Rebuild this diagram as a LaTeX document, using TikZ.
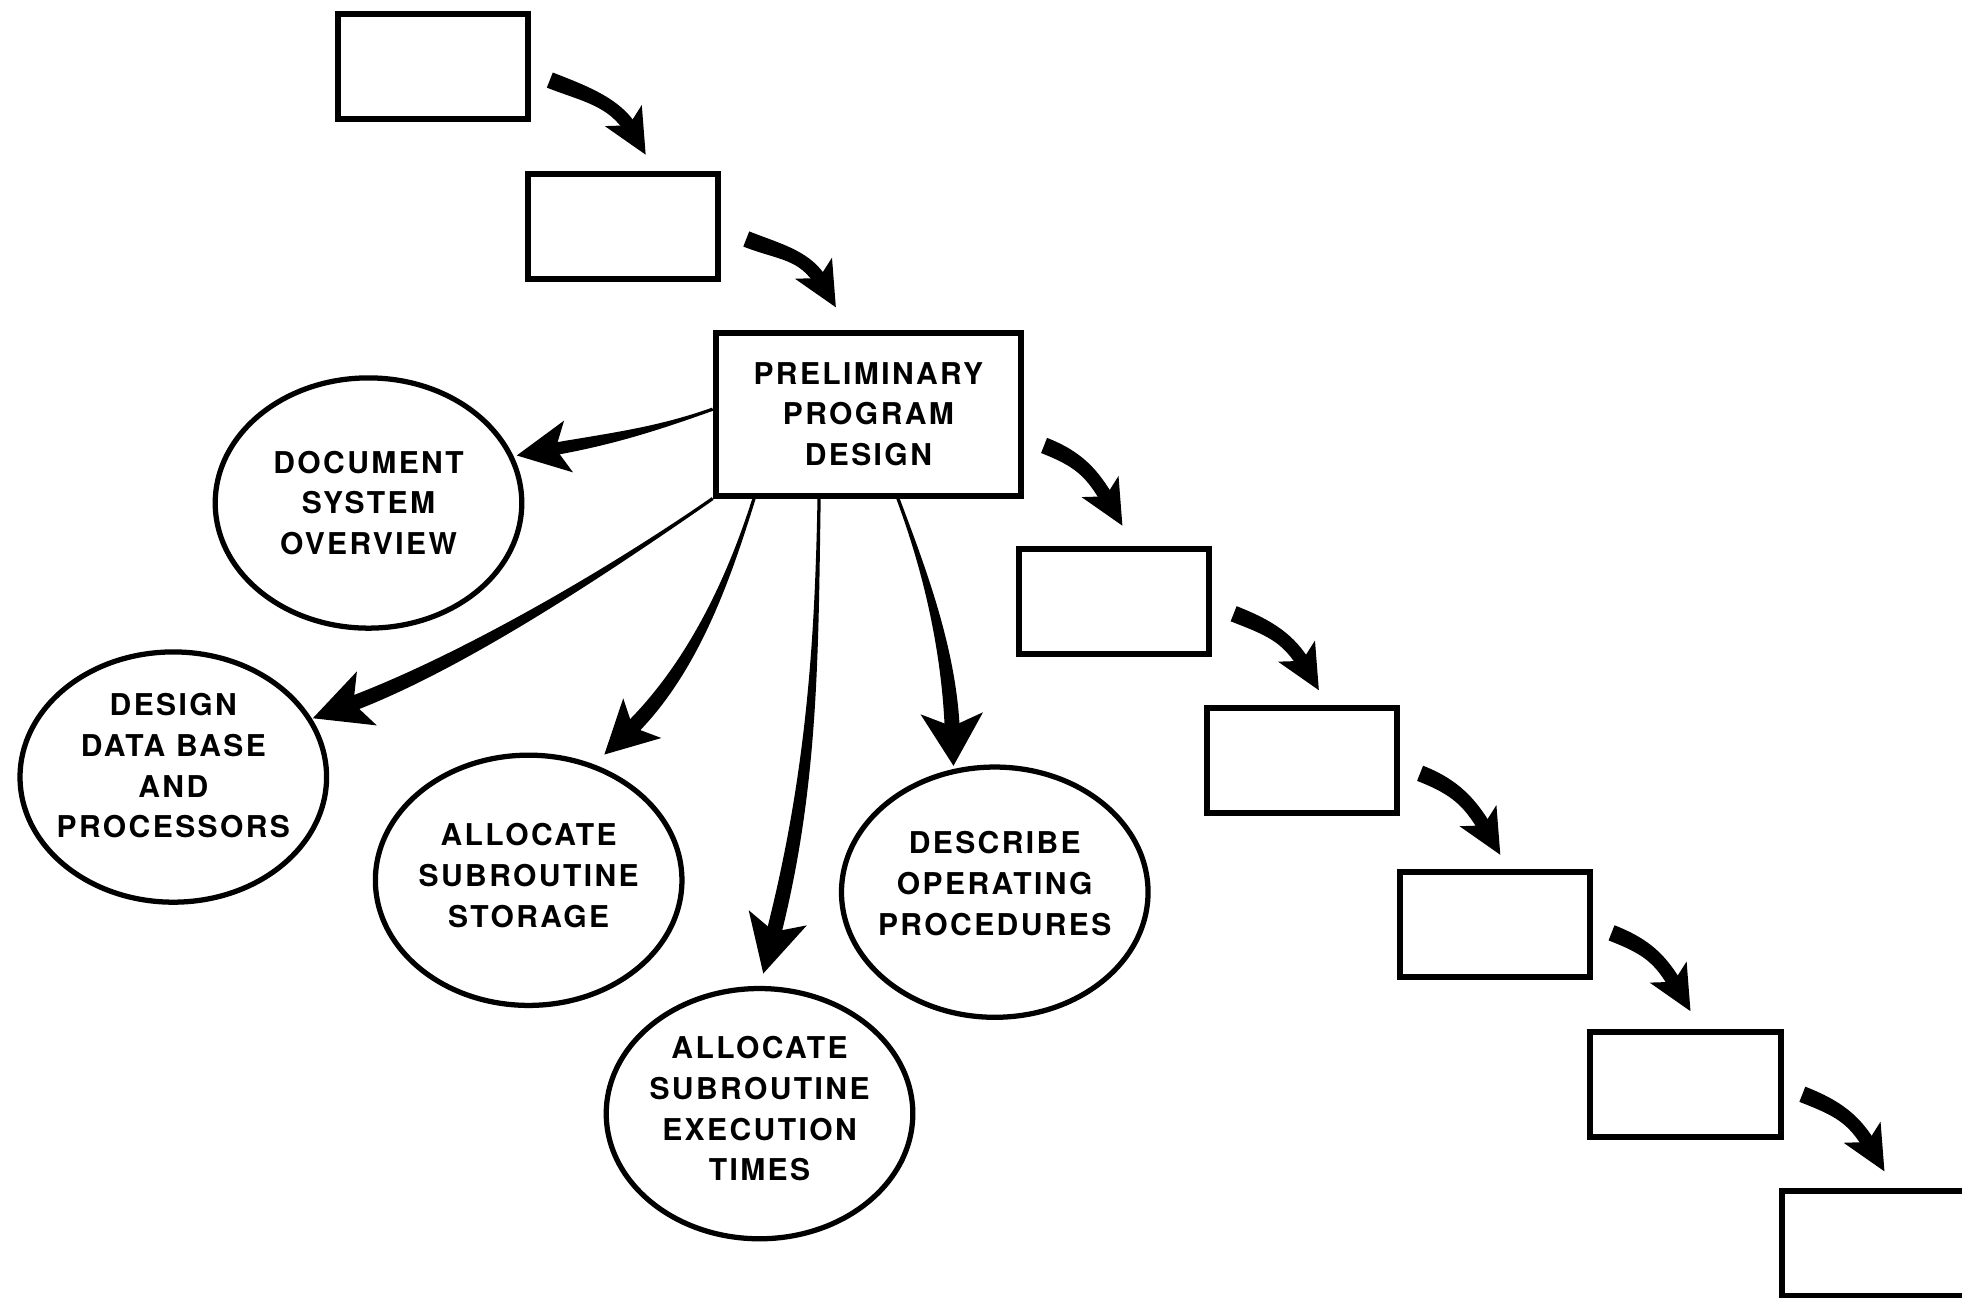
\documentclass[tikz,border=0pt]{standalone}
\usepackage{fontspec}
\newfontfamily\lblfont[LetterSpace=8]{TeX Gyre Heros}
\usetikzlibrary{shapes.geometric,calc}

% Tapered, curved arrow drawn as a filled shaft plus a barbed head.
% #1 tail, #2 first control (offset from tail), #3 second control (offset from tip),
% #4 tip, #5 half width at tail, #6 half width at head, #7 head length, #8 head half width
\newcommand\fatarrow[8]{%
  \coordinate (fa-t) at (#4);
  \coordinate (fa-s) at (#1);
  \coordinate (fa-c1) at ($(fa-s)+(#2)$);
  \coordinate (fa-c2) at ($(fa-t)+(#3)$);
  \coordinate (fa-e) at ($(fa-t)!0.6*#7!(fa-c2)$);
  \coordinate (fa-n) at ($(fa-t)!0.75*#7!(fa-c2)$);
  \coordinate (fa-b) at ($(fa-t)!#7!(fa-c2)$);
  \coordinate (fa-l) at ($(fa-b)!#8!90:(fa-t)$);
  \coordinate (fa-r) at ($(fa-b)!#8!-90:(fa-t)$);
  \coordinate (fa-1) at ($(fa-s)!#5!90:(fa-c1)$);
  \coordinate (fa-2) at ($(fa-s)!#5!-90:(fa-c1)$);
  \coordinate (fa-3) at ($(fa-e)!#6!-90:(fa-c2)$);
  \coordinate (fa-4) at ($(fa-e)!#6!90:(fa-c2)$);
  \fill (fa-1) .. controls ($(fa-c1)+(fa-1)-(fa-s)$) and ($(fa-c2)+(fa-3)-(fa-e)$) .. (fa-3)
     -- (fa-4) .. controls ($(fa-c2)+(fa-4)-(fa-e)$) and ($(fa-c1)+(fa-2)-(fa-s)$) .. (fa-2) -- cycle;
  \fill (fa-t) -- (fa-l) -- (fa-n) -- (fa-r) -- cycle;
}
% one step of the staircase: from the right side of one box to the top of the next
\newcommand\steparrow[2]{\fatarrow{#1}{28,-11}{-24,42}{#2}{6.5pt}{5.5pt}{36pt}{17pt}}

\tikzset{
  lbl/.style={align=center, font=\lblfont\bfseries\fontsize{24}{32.5}\selectfont},
  stage/.style={draw, line width=4.8pt, minimum width=152pt, minimum height=84pt, inner sep=0pt},
  mainbox/.style={draw, lbl, line width=4.8pt, minimum width=244pt, minimum height=130pt, inner sep=0pt},
  task/.style={draw, lbl, ellipse, line width=4.2pt, minimum width=245pt, minimum height=200pt, inner sep=-40pt},
}

\begin{document}
\begin{tikzpicture}[x=1pt,y=1pt]
\useasboundingbox (0,0) rectangle (1568,-1037);
\fill[white] (0,0) rectangle (1568,-1037);

% stages of the waterfall
\node[stage] (b1) at (346,-53) {};
\node[stage] (b2) at (498,-181) {};
\node[mainbox] (main) at (694,-331) {PRELIMINARY\\PROGRAM\\DESIGN};
\node[stage] (b4) at (890.5,-480.5) {};
\node[stage] (b5) at (1040.5,-608) {};
\node[stage] (b6) at (1194.5,-738.5) {};
\node[stage] (b7) at (1347,-866.5) {};
\node[stage] (b8) at (1500,-993.5) {};

% tasks of the preliminary design step
\node[task] (dso) at (294.5,-402) {DOCUMENT\\SYSTEM\\OVERVIEW};
\node[task, text depth=18pt] (ddb) at (138.5,-621) {DESIGN\\DATA BASE\\AND\\PROCESSORS};
\node[task, text depth=8pt] (ass) at (422.5,-703.5) {ALLOCATE\\SUBROUTINE\\STORAGE};
\node[task, text depth=8pt] (aet) at (607,-890) {ALLOCATE\\SUBROUTINE\\EXECUTION\\TIMES};
\node[task, text depth=14pt] (dop) at (795,-713) {DESCRIBE\\OPERATING\\PROCEDURES};

% arrows down the staircase
\steparrow{$(b1.east)+(15,-11)$}{$(b2.north)+(18,13)$}
\steparrow{$(b2.east)+(20,-10)$}{$(main.north)+(-26,18)$}
\steparrow{$(main.east)+(16,-25)$}{$(b4.north)+(6.5,16)$}
\steparrow{$(b4.east)+(17,-10)$}{$(b5.north)+(13.5,12)$}
\steparrow{$(b5.east)+(16,-10)$}{$(b6.north)+(4.5,11)$}
\steparrow{$(b6.east)+(15,-7)$}{$(b7.north)+(4,14)$}
\steparrow{$(b7.east)+(15,-8)$}{$(b8.north)+(6,13)$}

% arrows from the design step to its tasks
\fatarrow{$(main.west)+(0,4)$}{-45,-16}{75,13}{$(dso.center)+(118.5,38)$}{1.3pt}{5pt}{42pt}{21pt}
\fatarrow{main.south west}{-82,-57}{117,43}{$(ddb.center)+(111.5,47)$}{1.3pt}{6pt}{46pt}{23pt}
\fatarrow{$(main.south west)+(33,0)$}{-18,-57}{73,70}{$(ass.center)+(60.5,100.5)$}{1.3pt}{6pt}{42pt}{22pt}
\fatarrow{$(main.south west)+(85,0)$}{-2,-120}{39,150}{$(aet.center)+(3,112)$}{1.3pt}{6pt}{46pt}{24pt}
\fatarrow{$(main.south west)+(148,0)$}{21,-56}{-3,92}{$(dop.center)+(-33,101)$}{1.3pt}{6pt}{42pt}{25pt}
\end{tikzpicture}
\end{document}
